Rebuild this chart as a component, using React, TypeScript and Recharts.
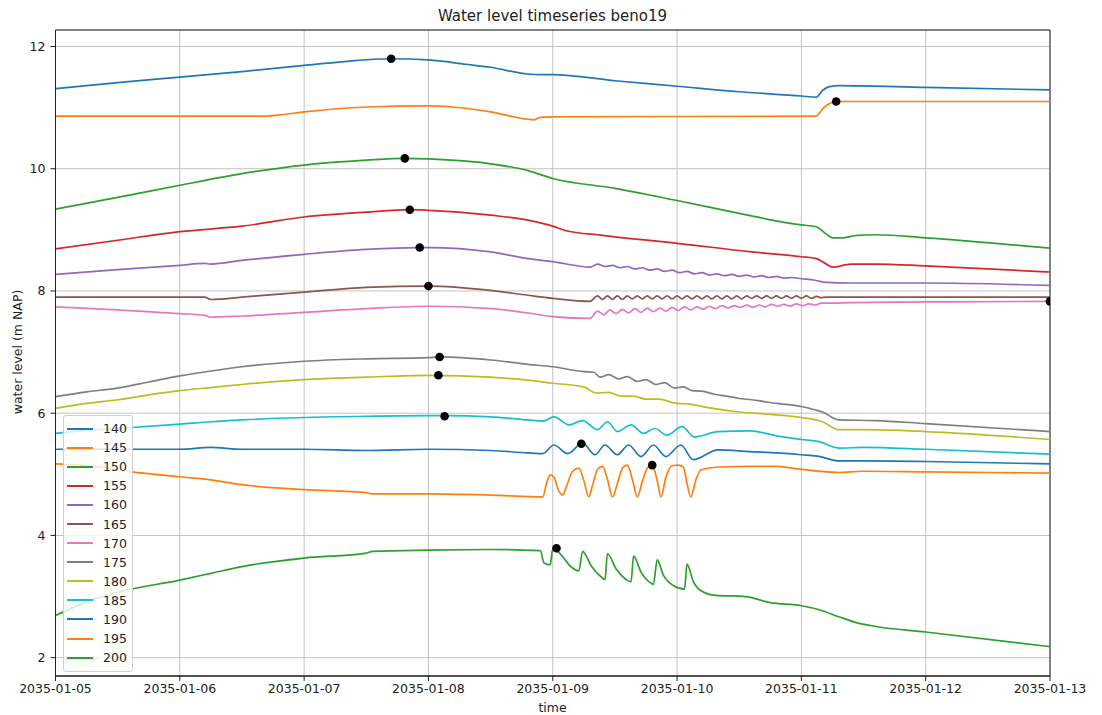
import React from 'react';
import { ComposedChart, Line, Scatter, XAxis, YAxis, CartesianGrid, ReferenceArea } from 'recharts';

const dayLabels = ['2035-01-05', '2035-01-06', '2035-01-07', '2035-01-08', '2035-01-09', '2035-01-10', '2035-01-11', '2035-01-12', '2035-01-13'];
const dayTicks = [0, 1, 2, 3, 4, 5, 6, 7, 8];
const yTicks = [2, 4, 6, 8, 10, 12];
const seriesNames = ['140', '145', '150', '155', '160', '165', '170', '175', '180', '185', '190', '195', '200'];
const seriesColors = ['#1f77b4', '#ff7f0e', '#2ca02c', '#d62728', '#9467bd', '#8c564b', '#e377c2', '#7f7f7f', '#bcbd22', '#17becf', '#1f77b4', '#ff7f0e', '#2ca02c'];

// [day offset, water level]
const s140 = [[0, 11.31], [0.5, 11.41], [1, 11.5], [1.5, 11.59], [2, 11.69], [2.3, 11.75], [2.7, 11.8], [3, 11.78], [3.3, 11.71], [3.5, 11.66], [3.8, 11.55], [3.9, 11.54], [4, 11.54], [4.5, 11.44], [5, 11.35], [5.5, 11.26], [6, 11.19], [6.12, 11.17], [6.17, 11.28], [6.22, 11.34], [6.3, 11.36], [7, 11.33], [8, 11.29]];
const s145 = [[0, 10.86], [1.67, 10.86], [1.8, 10.88], [2, 10.93], [2.5, 11.01], [3, 11.03], [3.3, 10.99], [3.5, 10.93], [3.8, 10.81], [3.85, 10.8], [3.9, 10.84], [4, 10.85], [6.12, 10.86], [6.17, 10.98], [6.22, 11.06], [6.29, 11.1], [8, 11.1]];
const s150 = [[0, 9.34], [0.5, 9.53], [1, 9.73], [1.5, 9.92], [2, 10.06], [2.5, 10.14], [2.81, 10.17], [3, 10.16], [3.5, 10.08], [3.8, 9.97], [4, 9.84], [4.5, 9.68], [5, 9.48], [5.5, 9.27], [5.9, 9.11], [6, 9.08], [6.12, 9.05], [6.2, 8.93], [6.25, 8.87], [6.32, 8.87], [6.45, 8.91], [6.6, 8.92], [7, 8.87], [8, 8.7]];
const s155 = [[0, 8.69], [0.5, 8.83], [1, 8.97], [1.5, 9.06], [2, 9.21], [2.5, 9.29], [2.85, 9.33], [3, 9.32], [3.5, 9.24], [3.8, 9.16], [4, 9.06], [4.1, 8.99], [4.4, 8.91], [5, 8.78], [5.6, 8.64], [6, 8.56], [6.12, 8.53], [6.2, 8.44], [6.25, 8.39], [6.4, 8.44], [6.6, 8.44], [7, 8.41], [8, 8.31]];
const s160 = [[0, 8.27], [0.5, 8.35], [1, 8.42], [1.2, 8.45], [1.25, 8.44], [1.5, 8.5], [2, 8.6], [2.5, 8.68], [2.93, 8.71], [3, 8.71], [3.5, 8.64], [3.8, 8.53], [4, 8.48], [4.3, 8.39], [4.36, 8.44], [4.42, 8.4], [4.48, 8.42], [4.54, 8.38], [4.6, 8.4], [4.66, 8.36], [4.72, 8.38], [4.78, 8.34], [4.84, 8.36], [4.9, 8.32], [4.96, 8.34], [5.02, 8.3], [5.08, 8.32], [5.14, 8.28], [5.2, 8.3], [5.26, 8.26], [5.32, 8.28], [5.38, 8.25], [5.44, 8.27], [5.5, 8.24], [5.56, 8.26], [5.62, 8.23], [5.68, 8.25], [5.74, 8.22], [5.8, 8.24], [5.86, 8.21], [5.92, 8.22], [6, 8.2], [6.1, 8.18], [6.2, 8.14], [6.4, 8.13], [7, 8.13], [8, 8.09]];
const s165 = [[0, 7.9], [1, 7.9], [1.2, 7.9], [1.25, 7.86], [1.5, 7.9], [2, 7.98], [2.5, 8.06], [3, 8.08], [3.5, 8.01], [3.8, 7.93], [4, 7.88], [4.3, 7.83], [4.36, 7.92], [4.4, 7.86], [4.44, 7.92], [4.48, 7.86], [4.52, 7.92], [4.56, 7.86], [4.6, 7.92], [4.64, 7.87], [4.68, 7.92], [4.72, 7.87], [4.76, 7.92], [4.8, 7.87], [4.84, 7.92], [4.88, 7.87], [4.92, 7.92], [4.96, 7.87], [5, 7.92], [5.04, 7.87], [5.08, 7.92], [5.12, 7.87], [5.16, 7.92], [5.2, 7.87], [5.24, 7.92], [5.28, 7.87], [5.32, 7.92], [5.36, 7.87], [5.4, 7.92], [5.44, 7.87], [5.48, 7.92], [5.52, 7.87], [5.56, 7.92], [5.6, 7.88], [5.64, 7.92], [5.68, 7.88], [5.72, 7.92], [5.76, 7.88], [5.8, 7.92], [5.84, 7.88], [5.88, 7.92], [5.92, 7.88], [5.96, 7.92], [6, 7.88], [6.04, 7.92], [6.08, 7.88], [6.12, 7.91], [6.16, 7.89], [6.2, 7.9], [8, 7.9]];
const s170 = [[0, 7.74], [0.5, 7.69], [1, 7.63], [1.2, 7.6], [1.25, 7.57], [1.5, 7.59], [2, 7.65], [2.5, 7.71], [3, 7.75], [3.5, 7.71], [3.8, 7.64], [4, 7.58], [4.3, 7.55], [4.36, 7.67], [4.41, 7.61], [4.46, 7.69], [4.51, 7.63], [4.56, 7.7], [4.61, 7.64], [4.66, 7.71], [4.71, 7.65], [4.76, 7.72], [4.81, 7.66], [4.86, 7.72], [4.91, 7.67], [4.96, 7.73], [5.01, 7.68], [5.06, 7.74], [5.11, 7.69], [5.16, 7.74], [5.21, 7.7], [5.26, 7.75], [5.31, 7.71], [5.36, 7.76], [5.41, 7.72], [5.46, 7.76], [5.51, 7.73], [5.56, 7.77], [5.61, 7.73], [5.66, 7.77], [5.71, 7.74], [5.76, 7.78], [5.81, 7.75], [5.86, 7.78], [5.91, 7.75], [5.96, 7.79], [6.01, 7.76], [6.06, 7.79], [6.11, 7.77], [6.16, 7.8], [6.21, 7.8], [6.4, 7.81], [7, 7.82], [8, 7.83]];
const s175 = [[0, 6.27], [0.25, 6.35], [0.5, 6.41], [0.75, 6.51], [1, 6.61], [1.25, 6.69], [1.5, 6.76], [2, 6.85], [2.5, 6.89], [3, 6.91], [3.1, 6.92], [3.5, 6.87], [3.8, 6.8], [4, 6.76], [4.25, 6.68], [4.33, 6.67], [4.38, 6.59], [4.45, 6.63], [4.53, 6.56], [4.6, 6.6], [4.68, 6.52], [4.75, 6.55], [4.83, 6.47], [4.9, 6.5], [4.98, 6.41], [5.05, 6.43], [5.12, 6.37], [5.2, 6.36], [5.3, 6.31], [5.4, 6.28], [5.5, 6.24], [5.6, 6.22], [5.7, 6.19], [5.8, 6.16], [5.9, 6.14], [6, 6.11], [6.1, 6.06], [6.17, 6.02], [6.3, 5.89], [6.6, 5.88], [7, 5.83], [8, 5.7]];
const s180 = [[0, 6.08], [0.25, 6.16], [0.5, 6.22], [0.75, 6.3], [1, 6.37], [1.25, 6.42], [1.5, 6.47], [2, 6.55], [2.5, 6.59], [3, 6.62], [3.5, 6.59], [3.8, 6.54], [4, 6.49], [4.25, 6.43], [4.35, 6.33], [4.45, 6.34], [4.55, 6.28], [4.65, 6.28], [4.75, 6.23], [4.85, 6.23], [5, 6.16], [5.1, 6.15], [5.25, 6.09], [5.5, 6.02], [5.75, 5.98], [6, 5.93], [6.17, 5.86], [6.3, 5.73], [6.5, 5.73], [7, 5.7], [8, 5.57]];
const s185 = [[0, 5.67], [0.25, 5.72], [0.5, 5.75], [1, 5.82], [1.25, 5.86], [1.5, 5.89], [2, 5.93], [2.5, 5.95], [3, 5.96], [3.13, 5.96], [3.5, 5.94], [3.8, 5.89], [3.92, 5.87], [4.01, 5.94], [4.13, 5.81], [4.24, 5.88], [4.36, 5.73], [4.44, 5.86], [4.52, 5.7], [4.63, 5.81], [4.73, 5.67], [4.82, 5.75], [4.92, 5.64], [5.04, 5.78], [5.14, 5.61], [5.33, 5.7], [5.59, 5.71], [5.8, 5.63], [6, 5.57], [6.15, 5.53], [6.3, 5.43], [6.5, 5.44], [7, 5.41], [8, 5.33]];
const s190 = [[0, 5.41], [1, 5.41], [1.25, 5.44], [1.5, 5.41], [2, 5.41], [2.5, 5.39], [3, 5.41], [3.5, 5.39], [3.8, 5.35], [3.92, 5.34], [4.01, 5.48], [4.12, 5.34], [4.24, 5.51], [4.34, 5.32], [4.42, 5.48], [4.52, 5.32], [4.61, 5.48], [4.71, 5.29], [4.81, 5.48], [4.91, 5.29], [5.03, 5.48], [5.13, 5.24], [5.33, 5.4], [5.59, 5.37], [5.8, 5.35], [6, 5.32], [6.15, 5.29], [6.3, 5.22], [6.5, 5.22], [7, 5.21], [8, 5.17]];
const s195 = [[0, 5.17], [0.3, 5.13], [0.5, 5.07], [1, 4.96], [1.25, 4.91], [1.5, 4.83], [2, 4.75], [2.5, 4.7], [2.55, 4.68], [3, 4.68], [3.5, 4.66], [3.92, 4.63], [3.95, 4.85], [3.98, 4.99], [4.01, 4.95], [4.05, 4.72], [4.08, 4.66], [4.11, 4.8], [4.16, 5.05], [4.21, 5.1], [4.25, 4.9], [4.29, 4.63], [4.32, 4.82], [4.36, 5.08], [4.4, 5.13], [4.44, 4.92], [4.48, 4.63], [4.52, 4.85], [4.56, 5.1], [4.6, 5.15], [4.64, 4.92], [4.68, 4.63], [4.72, 4.88], [4.76, 5.1], [4.8, 5.15], [4.84, 4.9], [4.87, 4.63], [4.91, 4.95], [4.96, 5.14], [5.01, 5.15], [5.05, 5.12], [5.08, 4.85], [5.11, 4.63], [5.15, 4.9], [5.19, 5.07], [5.33, 5.12], [5.59, 5.13], [5.8, 5.13], [6, 5.08], [6.3, 5.03], [6.5, 5.05], [7, 5.04], [8, 5.02]];
const s200 = [[0, 2.69], [0.3, 2.95], [0.5, 3.07], [1, 3.27], [1.25, 3.38], [1.5, 3.49], [2, 3.63], [2.5, 3.71], [2.55, 3.74], [3, 3.76], [3.5, 3.77], [3.9, 3.75], [3.93, 3.55], [3.98, 3.52], [4.0, 3.78], [4.06, 3.7], [4.14, 3.5], [4.21, 3.42], [4.24, 3.74], [4.31, 3.5], [4.39, 3.32], [4.42, 3.28], [4.44, 3.7], [4.51, 3.45], [4.59, 3.28], [4.63, 3.24], [4.65, 3.66], [4.71, 3.4], [4.79, 3.22], [4.81, 3.2], [4.84, 3.6], [4.89, 3.35], [4.97, 3.18], [5.06, 3.12], [5.08, 3.53], [5.13, 3.25], [5.19, 3.1], [5.31, 3.02], [5.55, 3.0], [5.75, 2.9], [6, 2.85], [6.15, 2.78], [6.3, 2.67], [6.45, 2.57], [6.6, 2.51], [7, 2.42], [8, 2.18]];

const seriesPoints = [s140, s145, s150, s155, s160, s165, s170, s175, s180, s185, s190, s195, s200];

const peakDays = [2.7, 6.28, 2.81, 2.85, 2.93, 3.0, 8.0, 3.09, 3.08, 3.13, 4.23, 4.8, 4.03];
const peakValues = [11.8, 11.1, 10.17, 9.33, 8.71, 8.08, 7.83, 6.92, 6.62, 5.95, 5.5, 5.15, 3.79];

const Y_MIN = 1.7;
const Y_MAX = 12.27;

const toRows = (pts: number[][]) => pts.map(([t, v]) => ({ t, v }));
const peakRows = peakDays.map((t, i) => ({ t, v: peakValues[i] }));

const FONT = '"DejaVu Sans", sans-serif';

export default function App() {
  return (
    <div style={{ position: 'absolute', left: 0, top: 0, width: 1102, height: 715, background: '#fff', fontFamily: FONT, color: '#222' }}>
      <ComposedChart width={1102} height={715} margin={{ top: 30, right: 52, bottom: 0, left: 0 }}>
        <CartesianGrid stroke="#c2c2c2" strokeWidth={1} vertical horizontal />
        <XAxis
          dataKey="t"
          type="number"
          domain={[0, 8]}
          ticks={dayTicks}
          allowDataOverflow
          height={39}
          tickSize={5}
          tickMargin={3}
          tickFormatter={(d: number) => dayLabels[d]}
          tick={{ fontSize: 12.5, fill: '#222', fontFamily: FONT }}
          stroke="#222"
          interval={0}
        />
        <YAxis
          dataKey="v"
          type="number"
          domain={[Y_MIN, Y_MAX]}
          ticks={yTicks}
          allowDataOverflow
          width={55.5}
          tickSize={5}
          tickMargin={5}
          tick={{ fontSize: 12.5, fill: '#222', fontFamily: FONT }}
          stroke="#222"
          interval={0}
        />
        <ReferenceArea x1={0} x2={8} y1={Y_MIN} y2={Y_MAX} fill="none" stroke="#222" strokeWidth={1} fillOpacity={0} ifOverflow="visible" />
        {seriesPoints.map((pts, i) => (
          <Line
            key={seriesNames[i]}
            data={toRows(pts)}
            dataKey="v"
            type="monotoneX"
            stroke={seriesColors[i]}
            strokeWidth={1.7}
            dot={false}
            activeDot={false}
            isAnimationActive={false}
          />
        ))}
        <Scatter
          data={peakRows}
          dataKey="v"
          isAnimationActive={false}
          shape={(p: any) => <circle cx={p.cx} cy={p.cy} r={4.3} fill="#000" />}
        />
      </ComposedChart>

      <div style={{ position: 'absolute', left: 55, width: 995, top: 7, textAlign: 'center', fontSize: 15, lineHeight: '18px' }}>
        Water level timeseries beno19
      </div>
      <div style={{ position: 'absolute', left: 55, width: 995, top: 700, textAlign: 'center', fontSize: 12.5, lineHeight: '16px' }}>
        time
      </div>
      <div style={{ position: 'absolute', left: 18 - 100, top: 352 - 8, width: 200, height: 16, textAlign: 'center', fontSize: 12.5, lineHeight: '16px', transform: 'rotate(-90deg)' }}>
        water level (m NAP)
      </div>

      <div style={{ position: 'absolute', left: 63, top: 415, width: 70, padding: '3px 0 4px 0', boxSizing: 'border-box', border: '1px solid #d0d0d0', borderRadius: 3, background: 'rgba(255,255,255,0.8)' }}>
        {seriesNames.map((name, i) => (
          <div key={name} style={{ display: 'flex', alignItems: 'center', height: 19.1 }}>
            <div style={{ marginLeft: 3, width: 26, height: 2, background: seriesColors[i] }} />
            <div style={{ marginLeft: 10, fontSize: 12.5, lineHeight: '19px' }}>{name}</div>
          </div>
        ))}
      </div>
    </div>
  );
}
